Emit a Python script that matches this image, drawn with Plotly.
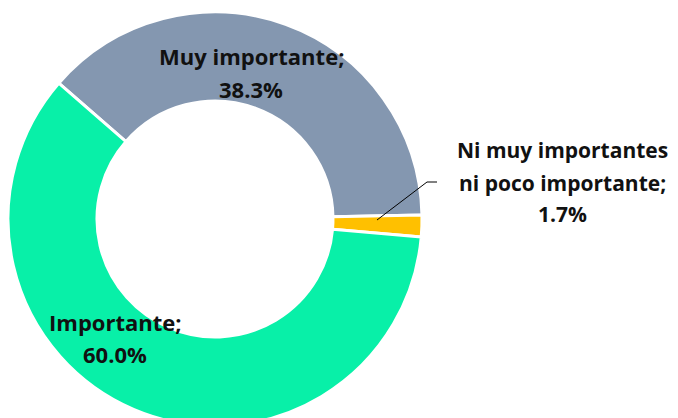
import plotly.graph_objects as go

categories = ["Muy importante", "Ni muy importantes ni poco importante", "Importante"]
values = [38.3, 1.7, 60.0]
colors = ["#8497B0", "#FFC000", "#08F0A8"]

W, H = 678, 418
TOP = 4
PAGE_OFFSET = 8  # default body margin of the html page


def px(x, y):
    """screen pixel position -> paper coords"""
    fx, fy = x - PAGE_OFFSET, y - PAGE_OFFSET
    return fx / W, (H - fy) / (H - TOP)


fig = go.Figure(go.Pie(
    labels=categories,
    values=values,
    hole=0.57,
    sort=False,
    direction="clockwise",
    rotation=-49,
    marker=dict(colors=colors, line=dict(color="white", width=3)),
    textinfo="none",
    hoverinfo="label+percent",
    domain=dict(x=[0, 414 / W], y=[0, 1]),
))

# one annotation per text line so the line spacing can follow the original
lines = [
    (f"{categories[0]};", 251, 56, 22),
    (f"{values[0]:.1f}%", 251, 89, 22),
    (f"{categories[2]};", 115, 322, 22),
    (f"{values[2]:.1f}%", 115, 354, 22),
    ("Ni muy importantes", 562, 150, 21),
    ("ni poco importante;", 562, 183, 21),
    (f"{values[1]:.1f}%", 562, 214, 21),
]
for text, x, y, size in lines:
    ax, ay = px(x, y)
    fig.add_annotation(text=f"<b>{text}</b>", x=ax, y=ay, xref="paper", yref="paper",
                       showarrow=False,
                       font=dict(family="Open Sans", size=size, color="#111111"),
                       align="center", xanchor="center", yanchor="middle")

# leader line for the small slice
p0, p1, p2 = px(377, 220), px(427, 182), px(437, 182)
fig.add_shape(type="path", xref="paper", yref="paper",
              path=f"M {p0[0]},{p0[1]} L {p1[0]},{p1[1]} L {p2[0]},{p2[1]}",
              line=dict(color="black", width=1))

fig.update_layout(
    width=W, height=H,
    margin=dict(l=0, r=0, t=TOP, b=0),
    showlegend=False,
    paper_bgcolor="white",
)

fig.write_html("out.html")
